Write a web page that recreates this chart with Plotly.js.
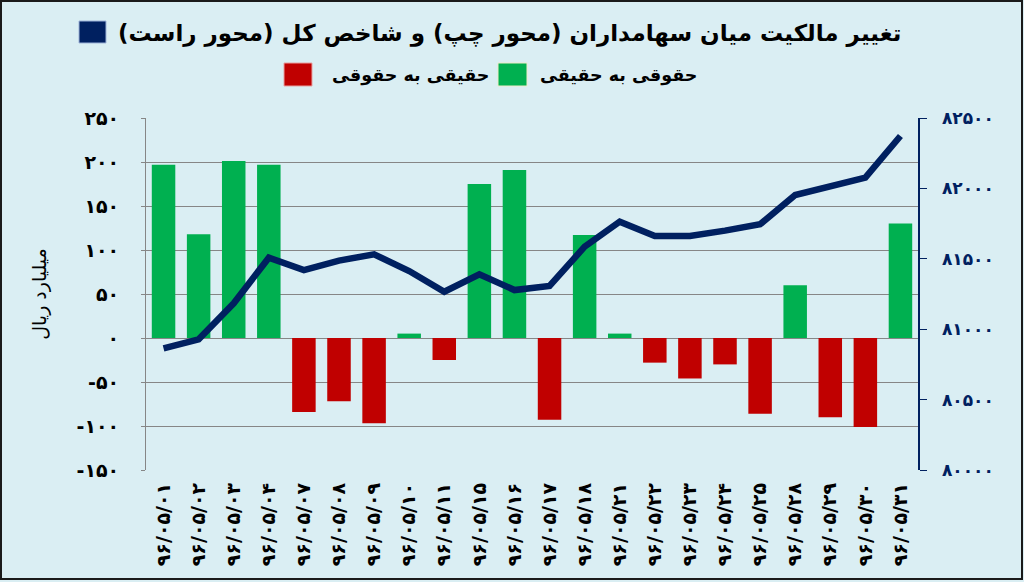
<!DOCTYPE html>
<html>
<head>
<meta charset="utf-8">
<script src="https://cdn.plot.ly/plotly-3.0.1.min.js"></script>
<style>
  html, body { margin: 0; padding: 0; background: #DAEEF3; }
  #chart { width: 1024px; height: 582px; }
</style>
</head>
<body>
<div id="chart"></div>
<script>
// روزهای معاملاتی مرداد ۹۶
var dates = ['01','02','03','04','07','08','09','10','11','15','16','17','18','21','22','23','24','25','28','29','30','31'];
// تغییر مالکیت (میلیارد ریال) - محور چپ
var ownershipChange = [197, 118, 201, 197, -84, -72, -97, 5, -25, 175, 191, -93, 117, 5, -28, -46, -30, -86, 60, -90, -101, 130];
// شاخص کل - محور راست
var indexValues = [80864, 80928, 81184, 81508, 81420, 81487, 81532, 81413, 81266, 81390, 81278, 81307, 81586, 81764, 81662, 81662, 81700, 81745, 81953, 82017, 82076, 82372];
var leftTicks = [-150, -100, -50, 0, 50, 100, 150, 200, 250];
var rightTicks = [80000, 80500, 81000, 81500, 82000, 82500];

var titleText = 'تغییر مالکیت میان سهامداران (محور چپ) و شاخص کل (محور راست)';
var greenName = 'حقوقی به حقیقی';
var redName = 'حقیقی به حقوقی';

var faDigits = '۰۱۲۳۴۵۶۷۸۹';
function toFa(s) {
  return String(s).replace(/[0-9]/g, function (d) { return faDigits[d]; });
}

var labels = dates.map(function (d) { return toFa('96/05/' + d); });

var green = ownershipChange.map(function (v) { return v >= 0 ? v : null; });
var red = ownershipChange.map(function (v) { return v < 0 ? v : null; });

var navy = '#002060';
var font = 'DejaVu Sans, Noto Sans, sans-serif';

// plot area in pixels: x 146..918, y 118..470
function px(x) { return (x - 146) / 772; }
function py(y) { return (470 - y) / 352; }

var data = [
  { x: labels, y: green, type: 'bar', name: greenName, marker: { color: '#00B050' }, yaxis: 'y' },
  { x: labels, y: red, type: 'bar', name: redName, marker: { color: '#C00000' }, yaxis: 'y' },
  { x: labels, y: indexValues, type: 'scatter', mode: 'lines', name: titleText,
    line: { color: navy, width: 6.5 }, yaxis: 'y2' }
];

var layout = {
  width: 1024,
  height: 582,
  margin: { l: 146, r: 106, t: 118, b: 112 },
  paper_bgcolor: '#DAEEF3',
  plot_bgcolor: '#DAEEF3',
  showlegend: false,
  barmode: 'relative',
  bargap: 0.33,
  xaxis: {
    type: 'category',
    tickangle: -90,
    ticks: '',
    ticklabelstandoff: 8,
    tickfont: { family: font, size: 19, color: '#000', weight: 'bold' },
    showgrid: false,
    zeroline: false,
    showline: false
  },
  yaxis: {
    range: [-150, 250],
    tickvals: leftTicks,
    ticktext: leftTicks.map(toFa),
    tickfont: { family: font, size: 19, color: '#000', weight: 'bold' },
    ticks: 'outside',
    ticklen: 4,
    tickcolor: '#868686',
    ticklabelstandoff: 18,
    showgrid: true,
    gridcolor: '#868686',
    gridwidth: 1,
    zeroline: true,
    zerolinecolor: '#868686',
    zerolinewidth: 1,
    showline: true,
    linecolor: '#868686',
    linewidth: 1,
    title: { text: 'میلیارد ریال', font: { family: font, size: 19, color: '#000' }, standoff: 24 }
  },
  yaxis2: {
    overlaying: 'y',
    side: 'right',
    range: [80000, 82500],
    tickvals: rightTicks,
    ticktext: rightTicks.map(toFa),
    tickfont: { family: font, size: 17, color: navy, weight: 'bold' },
    ticks: 'outside',
    ticklen: 7,
    tickcolor: navy,
    ticklabelstandoff: 12,
    showgrid: false,
    zeroline: false,
    showline: true,
    linecolor: navy,
    linewidth: 1.5
  },
  shapes: [
    // frame
    { type: 'rect', xref: 'paper', yref: 'paper', x0: px(1), x1: px(1022), y0: py(1), y1: py(579),
      line: { color: '#1a1a1a', width: 2 }, fillcolor: 'rgba(0,0,0,0)', layer: 'below' },
    // legend markers
    { type: 'rect', xref: 'paper', yref: 'paper', x0: px(79), x1: px(106), y0: py(21), y1: py(43),
      fillcolor: navy, line: { color: '#9DB3D9', width: 1 } },
    { type: 'rect', xref: 'paper', yref: 'paper', x0: px(284), x1: px(312), y0: py(63), y1: py(86),
      fillcolor: '#C00000', line: { color: '#E8A0A0', width: 1 } },
    { type: 'rect', xref: 'paper', yref: 'paper', x0: px(498), x1: px(527), y0: py(63), y1: py(86),
      fillcolor: '#00B050', line: { color: '#EEEBC8', width: 1 } }
  ],
  annotations: [
    { xref: 'paper', yref: 'paper', x: px(903), y: py(33), xanchor: 'right', yanchor: 'middle',
      text: titleText, showarrow: false, font: { family: font, size: 23, color: '#000', weight: 'bold' } },
    { xref: 'paper', yref: 'paper', x: px(491), y: py(75), xanchor: 'right', yanchor: 'middle',
      text: redName, showarrow: false, font: { family: font, size: 17.5, color: '#000', weight: 'bold' } },
    { xref: 'paper', yref: 'paper', x: px(699), y: py(75), xanchor: 'right', yanchor: 'middle',
      text: greenName, showarrow: false, font: { family: font, size: 17.5, color: '#000', weight: 'bold' } }
  ]
};

var config = { displayModeBar: false, staticPlot: true };

Plotly.newPlot('chart', data, layout, config);
</script>
</body>
</html>
